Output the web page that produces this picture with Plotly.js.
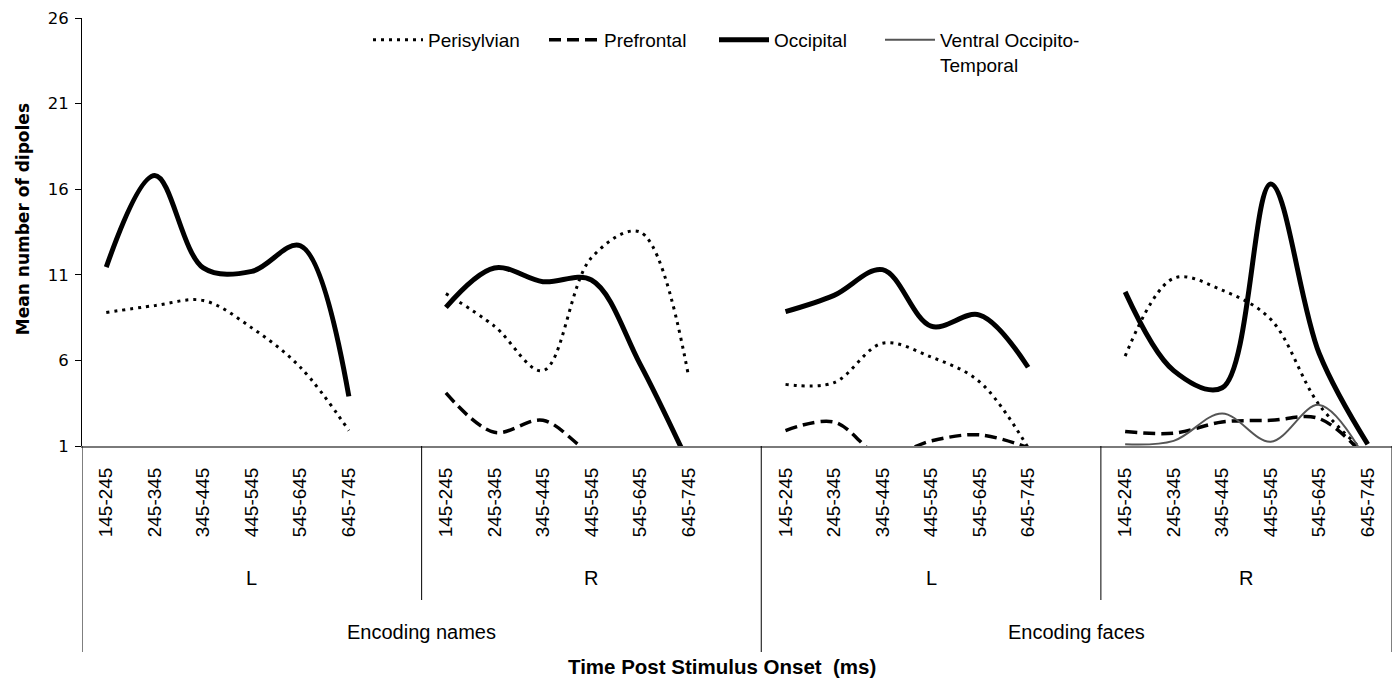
<!DOCTYPE html>
<html><head><meta charset="utf-8">
<script src="https://cdn.plot.ly/plotly-3.0.1.min.js"></script>
<style>html,body{margin:0;padding:0;background:#fff}#chart{width:1397px;height:680px}</style>
</head><body><div id="chart"></div>
<script>
// ---- data ----
const timeBins = ['145-245','245-345','345-445','445-545','545-645','645-745'];
const hemispheres = ['L','R','L','R'];
const tasks = ['Encoding names','Encoding faces'];
const seriesNames = ['Perisylvian','Prefrontal','Occipital','Ventral Occipito-<br>Temporal'];
// values per group (names-L, names-R, faces-L, faces-R), 6 time bins each
const perisylvian = [8.8, 9.2, 9.5, 7.9, 5.6, 1.9,
                     9.9, 8.0, 5.4, 12.0, 13.5, 5.1,
                     4.6, 4.7, 7.0, 6.2, 4.75, 0.9,
                     6.25, 10.8, 10.1, 8.4, 3.4, 0.5];
const prefrontal  = [0, 0, 0, 0, 0, 0,
                     4.1, 1.8, 2.5, 0.6, 0, 0,
                     1.9, 2.4, 0.4, 1.3, 1.65, 0.9,
                     1.85, 1.75, 2.4, 2.5, 2.6, 0.2];
const occipital   = [11.45, 16.8, 11.4, 11.2, 12.7, 3.9,
                     9.1, 11.4, 10.6, 10.7, 5.8, 0,
                     8.85, 9.8, 11.3, 8.0, 8.65, 5.6,
                     10.0, 5.4, 4.4, 16.3, 6.4, 1.1];
const ventral     = [0, 0, 0, 0, 0, 0,
                     0, 0, 0, 0, 0, 0,
                     0, 0, 0, 0, 0, 0,
                     1.1, 1.3, 2.9, 1.25, 3.4, 0];

// ---- helpers ----
const nBins = timeBins.length;
const nGroups = hemispheres.length;
const slot = nBins + 1; // one blank slot between groups
function groupLeft(g){ return g*slot - 0.5; }
function groupRight(g){ return g*slot + nBins - 0.5 + (g < nGroups-1 ? 1 : 0); }
function buildXY(vals){
  const xs=[], ys=[];
  for(let g=0; g<nGroups; g++){
    for(let i=0;i<nBins;i++){ xs.push(g*slot+i); ys.push(vals[g*nBins+i]); }
    if(g<nGroups-1){ xs.push(g*slot+nBins); ys.push(null); }
  }
  return {xs, ys};
}
const tickvals=[], ticktext=[];
for(let g=0; g<nGroups; g++) for(let i=0;i<nBins;i++){ tickvals.push(g*slot+i); ticktext.push(timeBins[i]); }

const styles = [
  {color:'#000', width:3, dash:'3px,5px'},
  {color:'#000', width:3.5, dash:'12px,6px'},
  {color:'#000', width:5, dash:'solid'},
  {color:'#555', width:2, dash:'solid'}
];
const allVals = [perisylvian, prefrontal, occipital, ventral];
const legendIds = ['legend','legend2','legend3','legend4'];
const traces = allVals.map((v,k)=>{
  const p = buildXY(v);
  return {x:p.xs, y:p.ys, type:'scatter', mode:'lines', name:seriesNames[k],
    connectgaps:false, hoverinfo:'skip', legend:legendIds[k],
    line:Object.assign({shape:'spline', smoothing:1}, styles[k])};
});

// ---- layout pieces ----
const L=82, R=5, T=18, B=234, W=1397, H=680;
const plotW = W-L-R, plotH = H-T-B;
const py = px => (H-B-px)/plotH; // pixel y -> paper y
const pxX = px => (px-L)/plotW;  // pixel x -> paper x

const shapes=[], annotations=[];
// dividers
const outer = [groupLeft(0), groupRight(1), groupRight(3)];
const inner = [groupRight(0), groupRight(2)];
outer.forEach(x=>shapes.push({type:'line', xref:'x', yref:'paper', x0:x, x1:x, y0:0, y1:py(652), line:{color:'#000', width:1}}));
inner.forEach(x=>shapes.push({type:'line', xref:'x', yref:'paper', x0:x, x1:x, y0:0, y1:py(600), line:{color:'#000', width:1}}));
const txtFont = {family:'Liberation Sans, Arial', size:20, color:'#000'};
// hemisphere labels
for(let g=0; g<nGroups; g++){
  annotations.push({xref:'x', yref:'paper', x:(groupLeft(g)+groupRight(g))/2, y:py(578), text:hemispheres[g],
    showarrow:false, xanchor:'center', yanchor:'middle', font:txtFont});
}
// task labels
for(let t=0; t<tasks.length; t++){
  annotations.push({xref:'x', yref:'paper', x:(groupLeft(2*t)+groupRight(2*t+1))/2, y:py(632), text:tasks[t],
    showarrow:false, xanchor:'center', yanchor:'middle', font:txtFont});
}
// axis titles
annotations.push({xref:'paper', yref:'paper', x:pxX(722), y:py(666), text:'<b>Time Post Stimulus Onset  (ms)</b>',
  showarrow:false, xanchor:'center', yanchor:'middle', font:{family:'Liberation Sans, Arial', size:20.5, color:'#000'}});
annotations.push({xref:'paper', yref:'paper', x:pxX(23), y:0.53, text:'<b>Mean number of dipoles</b>', textangle:-90,
  showarrow:false, xanchor:'center', yanchor:'middle', font:{family:'DejaVu Sans', size:17, color:'#000'}});

const legendFont = {family:'Liberation Sans, Arial', size:19, color:'#000'};
const legendTextStarts = [428, 604, 774, 940];
const itemW = 50;
const layout = {
  width:W, height:H, margin:{l:L, r:R, t:T, b:B}, paper_bgcolor:'#fff', plot_bgcolor:'#fff',
  showlegend:true,
  xaxis:{range:[groupLeft(0), groupRight(nGroups-1)], tickvals:tickvals, ticktext:ticktext, tickangle:-90,
    showline:true, linecolor:'#7a7a7a', linewidth:2, ticks:'', showgrid:false, zeroline:false,
    ticklabelstandoff:12, automargin:false,
    tickfont:{family:'Liberation Sans, Arial', size:19, color:'#000'}},
  yaxis:{range:[1,26], tick0:1, dtick:5, ticks:'outside', ticklen:6, tickcolor:'#000', showline:true,
    linecolor:'#000', linewidth:1, showgrid:false, zeroline:false, automargin:false, ticklabelstandoff:3,
    tickfont:{family:'DejaVu Sans', size:16.5, color:'#000'}},
  shapes:shapes, annotations:annotations
};
legendIds.forEach((id,k)=>{
  layout[id] = {x:pxX(legendTextStarts[k]-itemW-10), y:py(21), xanchor:'left', yanchor:'top', orientation:'h',
    font:legendFont, bgcolor:'rgba(0,0,0,0)', borderwidth:0, itemwidth:itemW, valign:'top'};
});
Plotly.newPlot('chart', traces, layout, {staticPlot:true, displayModeBar:false});
</script></body></html>
